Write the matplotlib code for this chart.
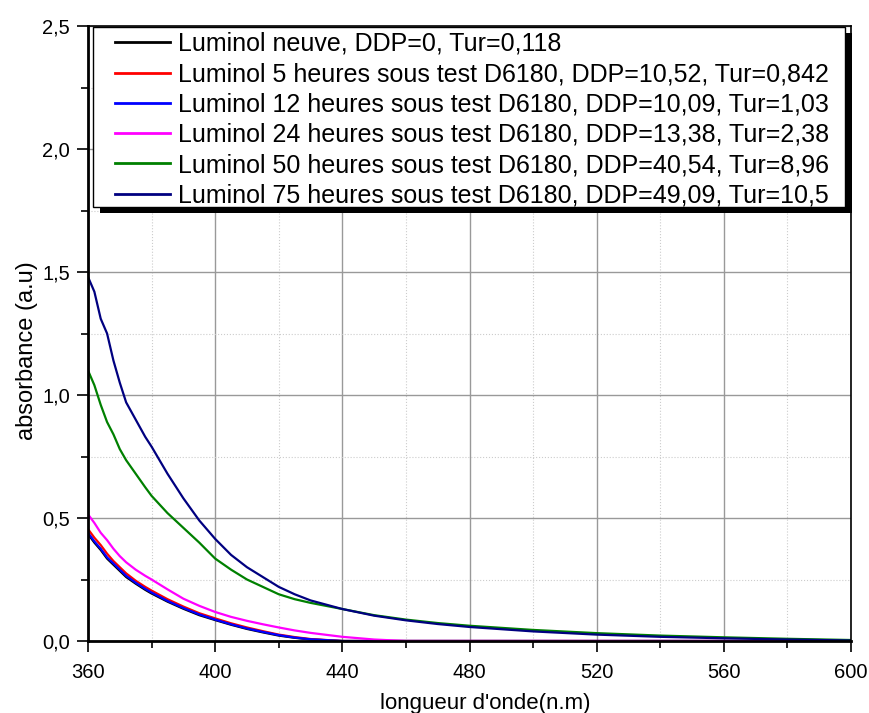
import matplotlib
matplotlib.use("Agg")
import matplotlib.pyplot as plt
from matplotlib.patches import Rectangle
from matplotlib.ticker import MultipleLocator, FuncFormatter

plt.rcParams['font.family'] = ['Liberation Sans', 'DejaVu Sans']

# wavelength (nm)
wl = [360, 362, 364, 366, 368, 370, 372, 375, 378, 380, 385, 390, 395, 400,
      405, 410, 415, 420, 425, 430, 440, 450, 460, 470, 480, 500, 520, 540,
      560, 580, 600]

neuve = [0.435, 0.40, 0.37, 0.335, 0.31, 0.285, 0.26, 0.233, 0.208, 0.193,
         0.16, 0.131, 0.105, 0.085, 0.066, 0.049, 0.035, 0.022, 0.013, 0.006,
         0.0, 0.0, 0.0, 0.0, 0.0, 0.0, 0.0, 0.0, 0.0, 0.0, 0.0]
h5 = [0.455, 0.42, 0.39, 0.355, 0.325, 0.30, 0.275, 0.245, 0.22, 0.205,
      0.17, 0.14, 0.113, 0.092, 0.072, 0.055, 0.04, 0.026, 0.016, 0.008,
      0.0, 0.0, 0.0, 0.0, 0.0, 0.0, 0.0, 0.0, 0.0, 0.0, 0.0]
h12 = [0.44, 0.405, 0.375, 0.34, 0.315, 0.29, 0.265, 0.237, 0.212, 0.197,
       0.163, 0.134, 0.108, 0.087, 0.068, 0.051, 0.037, 0.024, 0.014, 0.007,
       0.0, 0.0, 0.0, 0.0, 0.0, 0.0, 0.0, 0.0, 0.0, 0.0, 0.0]
h24 = [0.515, 0.48, 0.44, 0.41, 0.375, 0.345, 0.32, 0.29, 0.265, 0.25,
       0.21, 0.172, 0.143, 0.118, 0.098, 0.082, 0.068, 0.055, 0.043, 0.033,
       0.017, 0.006, 0.0, 0.0, 0.0, 0.0, 0.0, 0.0, 0.0, 0.0, 0.0]
h50 = [1.10, 1.04, 0.96, 0.89, 0.84, 0.78, 0.735, 0.68, 0.625, 0.59,
       0.52, 0.46, 0.40, 0.335, 0.29, 0.25, 0.22, 0.19, 0.17, 0.155,
       0.13, 0.105, 0.087, 0.073, 0.062, 0.045, 0.032, 0.022, 0.015, 0.009, 0.004]
h75 = [1.48, 1.42, 1.31, 1.25, 1.14, 1.05, 0.97, 0.90, 0.83, 0.79,
       0.68, 0.58, 0.49, 0.415, 0.35, 0.30, 0.26, 0.22, 0.19, 0.165,
       0.13, 0.103, 0.084, 0.069, 0.057, 0.039, 0.026, 0.017, 0.011, 0.006, 0.002]

series = [neuve, h5, h12, h24, h50, h75]
colors = ['#000000', '#ff0000', '#0000ff', '#ff00ff', '#008000', '#000080']
labels = [
    "Luminol neuve, DDP=0, Tur=0,118",
    "Luminol 5 heures sous test D6180, DDP=10,52, Tur=0,842",
    "Luminol 12 heures sous test D6180, DDP=10,09, Tur=1,03",
    "Luminol 24 heures sous test D6180, DDP=13,38, Tur=2,38",
    "Luminol 50 heures sous test D6180, DDP=40,54, Tur=8,96",
    "Luminol 75 heures sous test D6180, DDP=49,09, Tur=10,5",
]

W, H = 870, 713
fig = plt.figure(figsize=(W / 100, H / 100), dpi=100)
ax = fig.add_axes([88 / W, 1 - 641 / H, (851 - 88) / W, (641 - 26) / H])


def px(x, y):
    # pixel position (top-left origin) -> figure fraction
    return x / W, 1 - y / H


for y, c, lab in zip(series, colors, labels):
    ax.plot(wl, y, color=c, lw=1.6, label=lab)

ax.set_xlim(360, 600)
ax.set_ylim(0, 2.5)
ax.xaxis.set_major_locator(MultipleLocator(40))
ax.xaxis.set_minor_locator(MultipleLocator(20))
ax.yaxis.set_major_locator(MultipleLocator(0.5))
ax.yaxis.set_minor_locator(MultipleLocator(0.25))
ax.yaxis.set_major_formatter(FuncFormatter(lambda v, p: f"{v:.1f}".replace('.', ',')))

ax.grid(which='major', color='#999999', lw=1.0, ls='-')
ax.grid(which='minor', color='#cccccc', lw=0.8, ls=':')
ax.set_axisbelow(True)

ax.tick_params(which='major', direction='out', length=8, width=1.2, labelsize=14.5, pad=5)
ax.tick_params(axis='x', which='major', pad=8)
ax.tick_params(which='minor', direction='out', length=5, width=1.2)
for s in ax.spines.values():
    s.set_linewidth(1.2)
ax.spines['left'].set_linewidth(2)
ax.spines['bottom'].set_linewidth(2)

ax.set_xlabel("longueur d'onde(n.m)", fontsize=16, labelpad=8)
ax.set_ylabel("absorbance (a.u)", fontsize=17, labelpad=3)
ax.xaxis.label.set_x(0.52)
ax.yaxis.label.set_y(0.472)

# legend box with hard black shadow
x0, y0, x1, y1 = px(93, 207) + px(845, 27)
fig.patches.append(Rectangle((x0 + 7 / W, y0 - 6 / H), x1 - x0, y1 - y0,
                             transform=fig.transFigure, facecolor='black',
                             edgecolor='none', zorder=5))
fig.patches.append(Rectangle((x0, y0), x1 - x0, y1 - y0, transform=fig.transFigure,
                             facecolor='white', edgecolor='black', lw=1.0, zorder=6))

leg = fig.legend(*ax.get_legend_handles_labels(), loc='upper left',
                 bbox_to_anchor=px(115, 32), bbox_transform=fig.transFigure,
                 fontsize=18, frameon=False, labelspacing=0.25,
                 handlelength=2.2, handletextpad=0.3, borderpad=0, borderaxespad=0)
leg.set_zorder(7)
for h in leg.get_lines():
    h.set_linewidth(2)

fig.savefig("out.png", dpi=100)
